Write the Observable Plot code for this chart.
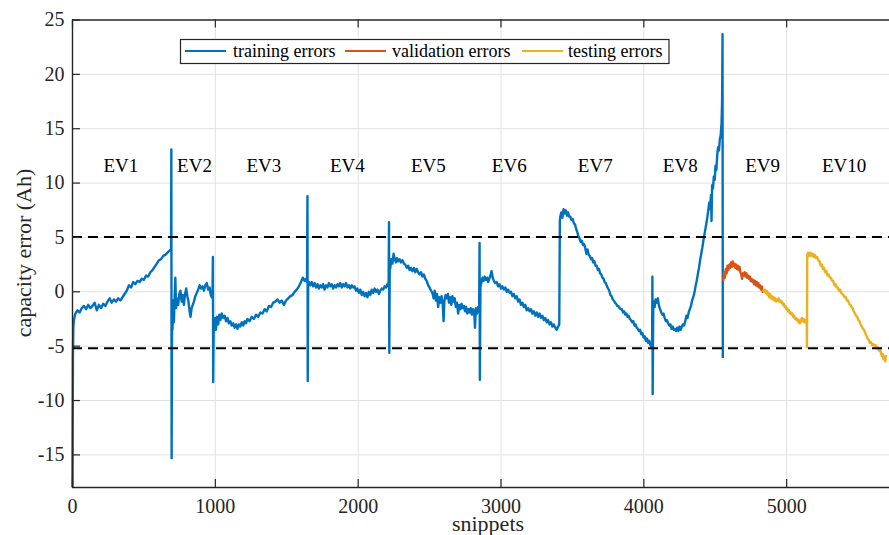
<!DOCTYPE html>
<html>
<head>
<meta charset="utf-8">
<script src="https://cdn.jsdelivr.net/npm/d3@7"></script>
<script src="https://cdn.jsdelivr.net/npm/@observablehq/plot@0.6"></script>
<style>
  html, body { margin: 0; padding: 0; background: #fff; overflow: hidden; }
  #chart svg { display: block; }
</style>
</head>
<body>
<div id="chart"></div>
<script>
// ---- data ----
const xTicks = [0, 1000, 2000, 3000, 4000, 5000];
const yTicks = [-15, -10, -5, 0, 5, 10, 15, 20, 25];
const evLabels = ["EV1", "EV2", "EV3", "EV4", "EV5", "EV6", "EV7", "EV8", "EV9", "EV10"];
const evCenters = [339, 854, 1340, 1924, 2491, 3058, 3660, 4255, 4832, 5402];
const thresholds = [5.03, -5.19];
const seriesNames = ["training errors", "validation errors", "testing errors"];
const seriesColors = ["#0072BD", "#D95319", "#EDB120"];

const training = [
  [0,-18],[3,-6],[6,-3.2],[10,-2.6],[20,-2.0],[35,-1.7],[50,-1.9],[65,-1.5],[80,-1.3],[95,-1.6],
  [110,-1.2],[125,-1.5],[140,-1.3],[155,-1.0],[170,-1.7],[185,-1.2],[200,-1.5],[215,-1.1],[230,-1.3],[245,-0.9],
  [260,-0.6],[275,-1.0],[290,-0.7],[305,-0.9],[320,-0.6],[335,-0.8],[350,-0.5],[365,-0.2],[380,0.1],[395,0.6],
  [410,0.4],[425,0.9],[440,0.7],[455,1.0],[470,0.9],[485,1.2],[500,1.1],[515,1.5],[530,1.4],[545,1.8],
  [560,2.0],[575,2.3],[590,2.6],[605,2.9],[620,3.0],[635,3.3],[650,3.4],[665,3.6],[680,3.8],[690,3.9],
  [692,13.1],[694,-15.3],[697,-1.0],
  [700,-3.5],[705,-0.8],[710,-2.8],[715,-0.5],[720,1.3],[725,-1.5],[732,-0.6],[740,-1.2],[748,-0.2],[756,0.1],
  [764,-0.9],[772,-0.3],[780,-1.2],[788,-0.2],[796,0.3],[804,-0.4],[812,-0.9],[820,-1.8],[826,-2.3],[834,-1.5],
  [842,-1.2],[850,-0.9],[860,-0.4],[870,-0.1],[880,0.2],[890,0.6],[900,0.3],[910,0.5],[920,0.1],[930,0.6],
  [940,0.8],[950,0.2],[960,0.4],[968,-0.3],[975,-0.5],[980,-0.4],
  [983,3.2],[985,-8.3],[988,-3.8],
  [992,-3.2],[998,-2.4],[1004,-3.5],[1012,-2.3],[1020,-3.0],[1028,-2.1],[1036,-2.6],[1045,-2.0],[1055,-2.4],[1065,-2.2],
  [1075,-2.7],[1085,-2.4],[1095,-2.9],[1105,-2.7],[1115,-3.1],[1125,-2.9],[1135,-3.3],[1145,-3.0],[1155,-3.4],[1165,-3.0],
  [1175,-3.2],[1185,-2.8],[1195,-3.1],[1205,-2.7],[1215,-2.9],[1225,-2.5],[1240,-2.7],[1255,-2.3],[1270,-2.5],[1285,-2.1],
  [1300,-2.3],[1315,-1.9],[1330,-2.0],[1345,-1.6],[1360,-1.8],[1375,-1.3],[1390,-1.4],[1405,-1.0],[1420,-0.9],[1435,-0.7],
  [1450,-1.0],[1465,-0.8],[1480,-1.2],[1495,-0.8],[1510,-0.6],[1525,-0.4],[1540,-0.3],[1555,0.0],[1570,0.2],[1585,0.5],
  [1600,0.9],[1612,1.3],[1625,1.0],[1635,1.2],[1642,0.9],
  [1645,8.8],[1647,-8.2],[1650,0.6],
  [1655,0.9],[1665,0.6],[1675,0.9],[1685,0.5],[1695,0.8],[1705,0.4],[1715,0.7],[1725,0.3],[1735,0.6],[1745,0.4],
  [1755,0.7],[1765,0.2],[1775,0.6],[1785,0.4],[1795,0.8],[1805,0.5],[1815,0.7],[1825,0.3],[1835,0.6],[1845,0.4],
  [1855,0.7],[1865,0.5],[1875,0.8],[1885,0.4],[1895,0.7],[1905,0.5],[1915,0.8],[1925,0.4],[1935,0.6],[1945,0.3],
  [1955,0.6],[1965,0.4],[1975,0.5],[1985,0.1],[1995,0.3],[2005,-0.1],[2015,0.2],[2025,-0.3],[2035,0.0],[2045,-0.4],
  [2055,-0.1],[2065,-0.5],[2075,0.0],[2085,-0.3],[2095,0.2],[2105,-0.1],[2115,0.3],[2125,0.0],[2135,0.2],[2145,-0.2],
  [2155,0.1],[2165,0.3],[2175,0.2],[2185,0.5],[2195,0.4],[2205,0.7],[2213,0.5],
  [2216,6.4],[2218,-5.6],[2221,2.0],
  [2225,2.2],[2232,3.0],[2240,2.6],[2248,3.5],[2256,3.0],[2264,2.7],[2272,3.1],[2280,2.8],[2290,3.0],[2300,2.7],
  [2310,2.9],[2320,2.6],[2330,2.5],[2340,2.2],[2350,2.4],[2360,2.0],[2370,2.2],[2380,1.9],[2390,2.2],[2400,1.8],
  [2410,2.1],[2420,1.8],[2430,1.6],[2440,1.8],[2450,1.4],[2460,1.6],[2470,1.2],[2480,1.0],[2490,0.6],[2500,0.4],
  [2510,0.1],[2520,-0.1],[2528,-0.6],[2536,0.1],[2544,-0.8],[2552,-0.2],[2560,-1.4],[2568,-0.5],[2576,-1.0],[2584,-0.4],
  [2592,-1.2],[2598,-2.7],[2604,-0.8],[2612,-0.3],[2620,-0.6],[2628,-0.2],[2636,-1.0],[2644,-0.5],[2652,-1.2],[2660,-0.4],
  [2668,-0.9],[2676,-0.6],[2684,-1.4],[2692,-1.0],[2700,-2.0],[2708,-1.2],[2716,-1.6],[2724,-1.1],[2732,-1.5],[2740,-1.3],
  [2748,-1.8],[2756,-1.4],[2764,-2.0],[2772,-1.6],[2780,-1.9],[2788,-1.5],[2796,-2.1],[2804,-1.6],[2812,-1.8],[2818,-3.3],
  [2824,-1.5],[2832,-2.0],[2840,-1.4],[2847,-1.6],
  [2850,4.5],[2852,-8.1],[2856,0.4],
  [2862,0.8],[2870,1.3],[2878,1.0],[2886,1.4],[2894,1.1],[2902,1.3],[2910,0.9],[2918,1.2],[2926,1.5],[2934,1.9],
  [2942,1.3],[2950,1.0],[2960,0.8],[2970,0.9],[2980,0.5],[2990,0.7],[3000,0.3],[3010,0.5],[3020,0.2],[3030,0.4],
  [3040,0.0],[3050,0.2],[3060,-0.1],[3070,0.0],[3080,-0.4],[3090,-0.2],[3100,-0.6],[3110,-0.4],[3120,-0.9],[3130,-0.7],
  [3140,-1.2],[3150,-1.0],[3160,-1.4],[3170,-1.2],[3180,-1.7],[3190,-1.5],[3200,-1.8],[3210,-1.6],[3220,-2.0],[3230,-1.8],
  [3240,-2.2],[3250,-1.9],[3260,-2.3],[3270,-2.0],[3280,-2.4],[3290,-2.2],[3300,-2.6],[3310,-2.4],[3320,-2.8],[3330,-2.6],
  [3340,-3.0],[3350,-2.8],[3360,-3.2],[3370,-3.0],[3380,-3.3],[3390,-3.5],[3400,-3.2],[3408,-3.0],
  [3412,6.5],
  [3415,6.9],[3422,7.3],[3430,6.8],[3438,7.6],[3446,7.2],[3454,7.5],[3462,7.0],[3470,7.3],[3478,6.9],[3486,6.9],
  [3494,6.6],[3502,6.7],[3510,6.3],[3518,6.2],[3526,5.8],[3534,5.5],[3542,5.1],[3550,4.9],[3558,4.6],[3566,4.7],
  [3574,4.3],[3582,4.4],[3590,4.0],[3598,3.5],[3606,3.9],[3614,3.4],[3622,3.3],[3630,3.0],[3638,3.1],[3646,2.7],
  [3654,2.8],[3662,2.4],[3670,2.4],[3678,2.0],[3686,2.1],[3694,1.7],[3702,1.6],[3710,1.3],[3718,1.2],[3726,0.9],
  [3734,0.8],[3742,0.5],[3750,0.3],[3758,0.1],[3766,-0.3],[3774,-0.4],[3782,-0.7],[3790,-0.8],[3798,-1.0],[3806,-1.1],
  [3814,-1.3],[3822,-1.3],[3830,-1.5],[3838,-1.6],[3846,-1.6],[3854,-1.9],[3862,-1.8],[3870,-2.1],[3878,-2.0],[3886,-2.3],
  [3894,-2.2],[3902,-2.5],[3910,-2.6],[3918,-2.8],[3926,-2.7],[3934,-3.1],[3942,-3.0],[3950,-3.3],[3958,-3.4],[3966,-3.6],
  [3974,-3.5],[3982,-3.9],[3990,-3.8],[3998,-4.2],[4006,-4.1],[4014,-4.5],[4022,-4.3],[4030,-4.7],[4038,-4.5],[4046,-4.9],
  [4054,-5.1],[4058,-5.2],
  [4060,1.4],[4062,-9.4],[4066,-1.2],
  [4070,-0.9],[4076,-1.4],[4082,-0.7],[4090,-1.0],[4098,-0.6],[4106,-1.3],[4114,-1.6],[4122,-1.9],[4130,-2.1],[4138,-2.0],
  [4146,-2.4],[4154,-2.7],[4162,-2.6],[4170,-2.9],[4178,-3.1],[4186,-3.0],[4194,-3.4],[4202,-3.2],[4210,-3.5],[4218,-3.4],
  [4226,-3.6],[4234,-3.3],[4242,-3.6],[4250,-3.2],[4258,-3.5],[4266,-3.2],[4274,-3.0],[4282,-3.1],[4290,-2.7],[4298,-2.2],
  [4306,-2.4],[4314,-1.9],[4322,-1.6],[4330,-1.3],[4338,-0.8],[4346,-0.5],[4354,-0.1],[4362,0.5],[4370,1.0],[4378,1.6],
  [4386,2.2],[4394,2.9],[4402,3.5],[4410,4.1],[4418,4.8],[4426,5.4],[4434,6.0],[4442,6.6],[4450,7.4],[4458,8.2],
  [4464,7.6],[4470,8.9],[4474,6.5],[4478,9.8],[4484,9.5],[4490,10.6],[4496,10.3],[4502,11.6],[4508,11.2],[4514,12.6],
  [4520,13.3],[4526,13.0],[4532,14.0],[4538,14.4],[4544,15.5],[4548,17.5],
  [4551,23.7],[4553,-6.1]
];

const validation = [
  [4556,1.0],[4562,1.8],[4568,1.3],[4574,2.1],[4580,1.7],[4586,2.4],[4592,2.0],[4598,2.5],[4604,2.2],[4610,2.7],
  [4616,2.3],[4622,2.8],[4628,2.4],[4634,2.6],[4640,2.2],[4646,2.5],[4652,2.1],[4658,2.4],[4664,2.0],[4670,2.3],
  [4676,1.8],[4682,1.6],[4688,1.2],[4694,1.7],[4700,1.5],[4706,1.8],[4712,1.4],[4718,1.7],[4724,1.3],[4730,1.5],
  [4736,1.2],[4742,1.4],[4748,1.0],[4754,1.2],[4760,0.9],[4766,1.1],[4772,0.7],[4778,1.0],[4784,0.6],[4790,0.9],
  [4796,0.5],[4802,0.8],[4808,0.4],[4814,0.6],[4820,0.2],[4826,0.5],[4832,0.0],[4836,0.2]
];

const testing = [
  [4836,0.2],[4842,0.0],[4848,0.2],[4854,-0.1],[4860,0.1],[4866,-0.3],[4872,-0.1],[4878,-0.5],[4884,-0.2],[4890,-0.6],
  [4896,-0.4],[4902,-0.7],[4908,-0.5],[4914,-0.8],[4920,-0.6],[4926,-0.9],[4932,-0.7],[4938,-0.8],[4944,-0.6],[4950,-0.9],
  [4956,-0.8],[4962,-1.0],[4968,-0.9],[4974,-1.2],[4980,-1.1],[4986,-1.4],[4992,-1.3],[4998,-1.6],[5004,-1.5],[5010,-1.8],
  [5016,-1.7],[5022,-2.0],[5028,-1.9],[5034,-2.1],[5040,-2.0],[5046,-2.3],[5052,-2.2],[5058,-2.5],[5064,-2.4],[5070,-2.6],
  [5076,-2.5],[5082,-2.8],[5088,-2.6],[5094,-2.9],[5100,-2.7],[5106,-2.4],[5112,-2.7],[5118,-2.5],[5124,-2.8],[5130,-2.6],
  [5136,-2.8],[5140,-2.6],
  [5142,-5.1],[5144,3.4],
  [5150,3.6],[5158,3.3],[5166,3.6],[5174,3.3],[5182,3.5],[5190,3.2],[5198,3.4],[5206,3.1],[5214,3.2],[5222,2.9],
  [5230,2.8],[5238,2.4],[5246,2.5],[5254,2.1],[5262,2.2],[5270,1.8],[5278,1.9],[5286,1.5],[5294,1.6],[5302,1.3],
  [5310,1.3],[5318,1.0],[5326,1.0],[5334,0.6],[5342,0.7],[5350,0.4],[5358,0.4],[5366,0.1],[5374,0.2],[5382,-0.1],
  [5390,-0.2],[5398,-0.3],[5406,-0.5],[5414,-0.5],[5422,-0.8],[5430,-0.8],[5438,-1.1],[5446,-1.2],[5454,-1.4],[5462,-1.5],
  [5470,-1.8],[5478,-2.0],[5486,-2.2],[5494,-2.3],[5502,-2.6],[5510,-2.7],[5518,-3.0],[5526,-3.2],[5534,-3.4],[5542,-3.5],
  [5550,-3.8],[5558,-4.0],[5566,-4.3],[5574,-4.4],[5582,-4.7],[5590,-4.6],[5598,-4.9],[5606,-4.8],[5614,-5.0],[5622,-4.9],
  [5630,-5.2],[5638,-5.1],[5646,-5.4],[5654,-5.3],[5660,-5.6],[5666,-5.9],[5672,-5.7],[5678,-6.2],[5684,-6.0],[5690,-6.4],
  [5695,-5.8]
];

// ---- chart ----
const W = 889, H = 535;
const mL = 72, mR = 0, mT = 19.5, mB = 48;
const plotW = W - mL - mR, plotH = H - mT - mB;
const xDomain = [0, 5720], yDomain = [-18, 25];
const axisColor = "#262626", gridColor = "#e2e2e2";
const serif = "'Liberation Serif', 'Times New Roman', serif";

const series = [training, validation, testing];

const chart = Plot.plot({
  width: W, height: H,
  marginLeft: mL, marginRight: mR, marginTop: mT, marginBottom: mB,
  style: { fontFamily: serif, background: "white", overflow: "visible" },
  x: { domain: xDomain, axis: null },
  y: { domain: yDomain, axis: null },
  marks: [
    // grid
    Plot.ruleX(xTicks.filter(d => d > xDomain[0]), { stroke: gridColor, strokeWidth: 1 }),
    Plot.ruleY(yTicks.filter(d => d < yDomain[1]), { stroke: gridColor, strokeWidth: 1 }),
    // data series
    ...series.map((s, i) => Plot.line(s, {
      x: d => d[0], y: d => d[1], stroke: seriesColors[i], strokeWidth: 2.4,
      strokeLinejoin: "round", strokeLinecap: "butt"
    })),
    // threshold dashed lines
    Plot.ruleY(thresholds, { stroke: "#000", strokeWidth: 2, strokeDasharray: "10,6" }),
    // axis box lines (left, bottom, top)
    Plot.ruleY([yDomain[0], yDomain[1]], { stroke: axisColor, strokeWidth: 1.4 }),
    Plot.ruleX([xDomain[0]], { stroke: axisColor, strokeWidth: 1.4 }),
    // inward ticks
    Plot.ruleX(xTicks, { stroke: axisColor, strokeWidth: 1.2, insetTop: plotH - 8 }),
    Plot.ruleX(xTicks, { stroke: axisColor, strokeWidth: 1.2, insetBottom: plotH - 8 }),
    Plot.ruleY(yTicks, { stroke: axisColor, strokeWidth: 1.2, insetRight: plotW - 8 }),
    // tick labels
    Plot.text(xTicks, {
      x: d => d, y: yDomain[0], text: d => String(d), dy: 19, lineAnchor: "middle",
      fontSize: 20, fill: axisColor
    }),
    Plot.text(yTicks, {
      x: xDomain[0], y: d => d, text: d => String(d), dx: -8, textAnchor: "end", lineAnchor: "middle",
      fontSize: 20, fill: axisColor
    }),
    // EV labels
    Plot.text(evLabels, {
      x: (d, i) => evCenters[i], y: 11.6, text: d => d, lineAnchor: "middle",
      fontSize: 19, fill: "#000"
    })
  ]
});

document.getElementById("chart").appendChild(chart);

// axis titles and legend
const svg = d3.select(chart);
svg.append("text")
  .attr("x", 488).attr("y", 531)
  .attr("text-anchor", "middle")
  .attr("font-family", serif).attr("font-size", 22).attr("fill", axisColor)
  .text("snippets");
svg.append("text")
  .attr("transform", "translate(31,253) rotate(-90)")
  .attr("text-anchor", "middle")
  .attr("font-family", serif).attr("font-size", 22).attr("fill", axisColor)
  .text("capacity error (Ah)");

const lg = svg.append("g");
lg.append("rect")
  .attr("x", 180.5).attr("y", 39.5).attr("width", 488.5).attr("height", 24)
  .attr("fill", "white").attr("stroke", axisColor).attr("stroke-width", 1.2);
const legendLineX = [185, 345, 522];
const legendTextX = [233, 392, 568];
seriesNames.forEach((name, i) => {
  lg.append("line")
    .attr("x1", legendLineX[i]).attr("x2", legendLineX[i] + 41)
    .attr("y1", 51).attr("y2", 51)
    .attr("stroke", seriesColors[i]).attr("stroke-width", 2.2);
  lg.append("text")
    .attr("x", legendTextX[i]).attr("y", 57)
    .attr("text-anchor", "start")
    .attr("font-family", serif).attr("font-size", 18).attr("fill", "#000")
    .text(name);
});
</script>
</body>
</html>
